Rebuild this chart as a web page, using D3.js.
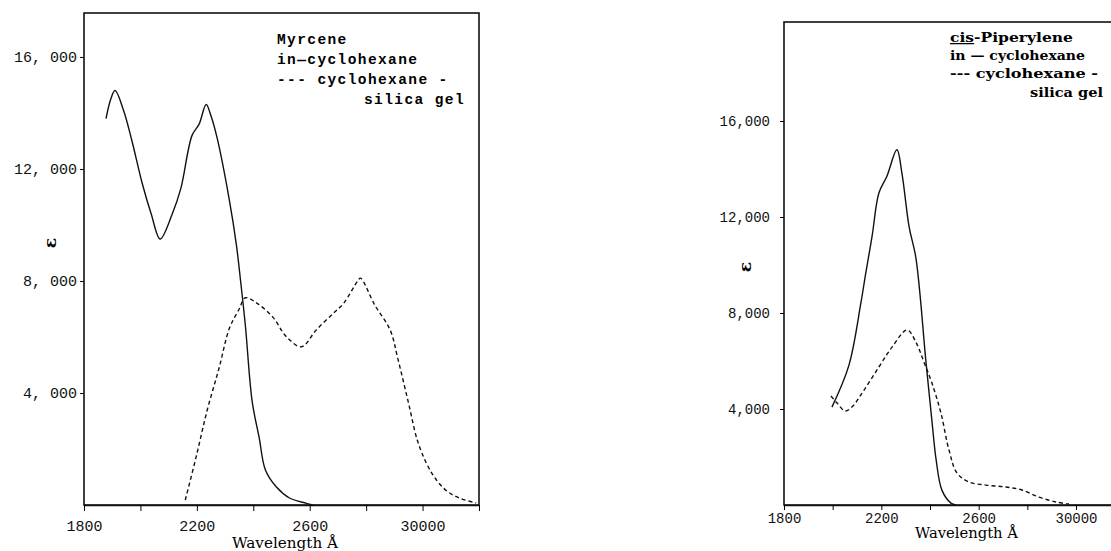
<!DOCTYPE html>
<html>
<head>
<meta charset="utf-8">
<script src="https://cdn.jsdelivr.net/npm/d3@7"></script>
<style>
  body { margin: 0; background: #fff; }
  svg { display: block; }
</style>
</head>
<body>
<div id="chart"></div>
<script>
// Myrcene panel (left)
const myrceneWave = [1878, 1895, 1910, 1940, 1970, 2006, 2038, 2070, 2113, 2143, 2183, 2208, 2233, 2250, 2272, 2315, 2340, 2355, 2372, 2396, 2421, 2443, 2482, 2528, 2588, 2610];
const myrceneCyclohexane = [13800, 14500, 14800, 14100, 13000, 11500, 10400, 9500, 10400, 11300, 13200, 13600, 14300, 13900, 13100, 10900, 9300, 8000, 6400, 3700, 2400, 1250, 640, 250, 60, 0];
const myrceneSilicaWave = [2159, 2197, 2237, 2279, 2315, 2350, 2372, 2414, 2470, 2518, 2571, 2623, 2684, 2720, 2770, 2780, 2830, 2885, 2913, 2950, 2985, 3032, 3080, 3130, 3190];
const myrceneSilica = [180, 1700, 3400, 4900, 6300, 7000, 7400, 7200, 6700, 6000, 5650, 6250, 6850, 7200, 8000, 8100, 7150, 6250, 5200, 3650, 2200, 1150, 550, 250, 70];

// cis-Piperylene panel (right)
const piperyleneWave = [1997, 2067, 2116, 2135, 2162, 2190, 2223, 2264, 2285, 2314, 2342, 2384, 2408, 2425, 2449, 2486, 2507];
const piperyleneCyclohexane = [4080, 5830, 8420, 9600, 11200, 13000, 13700, 14800, 13800, 11600, 10300, 5900, 3500, 1900, 620, 80, 0];
const piperyleneSilicaWave = [1993, 2018, 2051, 2079, 2129, 2190, 2244, 2306, 2342, 2375, 2408, 2445, 2478, 2511, 2560, 2630, 2712, 2778, 2848, 2918, 2971];
const piperyleneSilica = [4540, 4250, 3920, 4080, 4790, 5750, 6580, 7290, 6790, 5960, 5080, 3830, 2290, 1330, 960, 830, 750, 625, 330, 125, 40];

// ticks
const xTicks = [1800, 2000, 2200, 2400, 2600, 2800, 3000, 3200];
const xLabels = {1800: '1800', 2200: '2200', 2600: '2600', 3000: '30000'};
const yTicks = [4000, 8000, 12000, 16000];
const yLabelsLeft = ['4, 000', '8, 000', '12, 000', '16, 000'];
const yLabelsRight = ['4,000', '8,000', '12,000', '16,000'];

const svg = d3.select('#chart').append('svg')
    .attr('width', 1111)
    .attr('height', 551);

function zip(xs, ys) {
    return xs.map((x, i) => [x, ys[i]]);
}

function drawPanel(p) {
    const x = d3.scaleLinear().domain([1800, 3200]).range(p.xRange);
    const y = d3.scaleLinear().domain([0, p.yMax]).range(p.yRange);
    const g = svg.append('g');

    // frame
    g.append('rect')
        .attr('x', x(1800))
        .attr('y', y(p.yMax))
        .attr('width', x(3200) - x(1800))
        .attr('height', y(0) - y(p.yMax))
        .attr('fill', 'none')
        .attr('stroke', '#111')
        .attr('stroke-width', 1.6);

    const xAxis = d3.axisBottom(x)
        .tickValues(xTicks)
        .tickSize(p.xTickSize)
        .tickSizeOuter(0)
        .tickPadding(p.xPad)
        .tickFormat(d => xLabels[d] || '');

    const gx = g.append('g')
        .attr('transform', `translate(0,${y(0)})`)
        .call(xAxis);
    gx.select('.domain').attr('stroke', '#111').attr('stroke-width', 1.6);
    gx.selectAll('text')
        .attr('fill', '#111')
        .style('font-family', 'Liberation Mono, monospace')
        .style('font-size', p.tickFont + 'px');

    const yAxis = d3.axisLeft(y)
        .tickValues(yTicks)
        .tickSize(4)
        .tickSizeOuter(0)
        .tickPadding(p.yPad)
        .tickFormat((d, i) => p.yLabels[i]);

    const gy = g.append('g')
        .attr('transform', `translate(${x(1800)},0)`)
        .call(yAxis);
    gy.select('.domain').remove();
    gy.selectAll('text')
        .attr('fill', '#111')
        .style('font-family', 'Liberation Mono, monospace')
        .style('font-size', p.tickFont + 'px');

    // epsilon
    g.append('text')
        .attr('transform', `translate(${p.epsPos[0]},${p.epsPos[1]}) rotate(-90)`)
        .attr('text-anchor', 'middle')
        .attr('dy', '0.35em')
        .style('font-family', 'DejaVu Serif, serif')
        .style('font-size', '17px')
        .style('font-weight', 'bold')
        .text('ε');

    // x title
    g.append('text')
        .attr('x', p.titlePos[0])
        .attr('y', p.titlePos[1])
        .attr('textLength', p.titleLen)
        .attr('lengthAdjust', 'spacingAndGlyphs')
        .style('font-family', 'DejaVu Serif, serif')
        .style('font-size', '14px')
        .text('Wavelength Å');

    const line = d3.line()
        .x(d => x(d[0]))
        .y(d => y(d[1]))
        .curve(d3.curveCatmullRom.alpha(0.5));

    g.append('path')
        .datum(zip(p.solidWave, p.solid))
        .attr('d', line)
        .attr('fill', 'none')
        .attr('stroke', '#111')
        .attr('stroke-width', 1.4);

    g.append('path')
        .datum(zip(p.dashWave, p.dash))
        .attr('d', line)
        .attr('fill', 'none')
        .attr('stroke', '#111')
        .attr('stroke-width', 1.4)
        .attr('stroke-dasharray', '4,3');

    // legend
    p.legend.forEach(l => {
        const t = g.append('text')
            .attr('x', l.x)
            .attr('y', l.y)
            .style('font-family', p.legendFamily)
            .style('font-size', p.legendFont + 'px')
            .style('font-weight', p.legendWeight)
            .style('letter-spacing', p.legendSpacing + 'px');
        if (l.len) {
            t.attr('textLength', l.len).attr('lengthAdjust', 'spacingAndGlyphs');
        }
        if (l.under) {
            t.append('tspan').style('text-decoration', 'underline').text(l.under);
        }
        t.append('tspan').text(l.text);
    });
}

drawPanel({
    xRange: [84, 479],
    yRange: [505, 13],
    yMax: 17570,
    xTickSize: 6,
    xPad: 9,
    yPad: 3,
    tickFont: 15,
    yLabels: yLabelsLeft,
    epsPos: [50, 243],
    titlePos: [232, 548],
    titleLen: 106,
    solidWave: myrceneWave,
    solid: myrceneCyclohexane,
    dashWave: myrceneSilicaWave,
    dash: myrceneSilica,
    legendFamily: 'Liberation Mono, monospace',
    legendFont: 14.5,
    legendWeight: 'bold',
    legendSpacing: 1.4,
    legend: [
        {x: 277, y: 44, text: 'Myrcene'},
        {x: 277, y: 64, text: 'in\u2014cyclohexane'},
        {x: 277, y: 84, text: '--- cyclohexane -'},
        {x: 364, y: 104, text: 'silica gel'}
    ]
});

drawPanel({
    xRange: [784, 1076 + 0.2433 * 200],
    yRange: [505, 22],
    yMax: 20125,
    xTickSize: 5,
    xPad: 3,
    yPad: 10,
    tickFont: 14,
    yLabels: yLabelsRight,
    epsPos: [745, 267],
    titlePos: [915, 538],
    titleLen: 103,
    solidWave: piperyleneWave,
    solid: piperyleneCyclohexane,
    dashWave: piperyleneSilicaWave,
    dash: piperyleneSilica,
    legendFamily: 'DejaVu Serif, serif',
    legendFont: 12.5,
    legendWeight: 'bold',
    legendSpacing: 0,
    legend: [
        {x: 950, y: 42, len: 123, under: 'cis', text: '-Piperylene'},
        {x: 950, y: 60, len: 135, text: 'in \u2014 cyclohexane'},
        {x: 950, y: 78, len: 148, text: '--- cyclohexane -'},
        {x: 1030, y: 97, len: 73, text: 'silica gel'}
    ]
});
</script>
</body>
</html>
